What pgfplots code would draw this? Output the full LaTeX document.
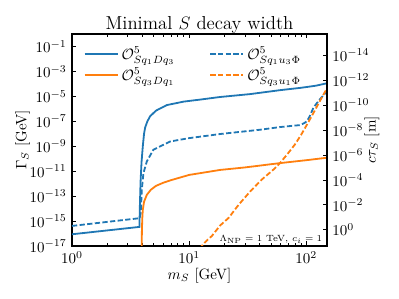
\documentclass[border=0pt]{standalone}
\usepackage{pgfplots}
\pgfplotsset{compat=1.18}
\definecolor{tabblue}{HTML}{1F77B4}
\definecolor{taborange}{HTML}{FF7F0E}
\begin{document}
\begin{tikzpicture}
\begin{axis}[name=ax, scale only axis, width=170pt, height=141.33pt,
  xmode=log, ymode=log, xmin=1, xmax=150, ymin=1e-17, ymax=1,
  ytick={1e-17,1e-15,1e-13,1e-11,1e-9,1e-7,1e-5,1e-3,1e-1},
  xtick={1,10,100},
  minor xtick={2,3,4,5,6,7,8,9,20,30,40,50,60,70,80,90},
  ytick pos=left, xtick pos=both, tick align=inside,
  major tick length=3pt, minor tick length=1.8pt,
  axis line style={line width=0.8pt},
  every tick/.style={black, line width=0.6pt},
  xlabel={$m_S$ [GeV]},
  xlabel style={at={(axis description cs:0.5,-0.14)}, anchor=center},
  ylabel={$\Gamma_S$ [GeV]},
  ylabel style={at={(axis description cs:-0.194,0.5)}, anchor=center},
  legend columns=2,
  legend cell align=left,
  legend image code/.code={\draw[#1] (0pt,0pt) -- (22pt,0pt);},
  legend style={draw=none, fill=none, at={(axis description cs:0.045,0.955)}, anchor=north west,
    inner sep=0pt, row sep=0.5pt, /tikz/every even column/.append style={column sep=21pt}},
]
\addplot[tabblue, line width=1.2pt] coordinates {
(1,8.71e-17) (3.76,3.39e-16) (3.80,2.51e-14) (3.85,1.585e-12) (3.92,5.01e-11)
(4.02,1e-9) (4.12,1e-8) (4.21,3.16e-8) (4.40,1e-7) (4.64,2.51e-7) (5.2,7.08e-7)
(6.45,2.0e-6) (9,3.8e-6) (12.4,5.5e-6) (18.4,8.9e-6) (33,1.51e-5) (60,3.16e-5)
(89,4.79e-5) (120,7.08e-5) (150,1.12e-4)
};
\addlegendentry{$\mathcal{O}^5_{Sq_1Dq_3}$}
\addplot[tabblue, line width=1.2pt, dash pattern=on 3.5pt off 1.6pt] coordinates {
(1,4.07e-16) (3.78,1.70e-15) (3.87,5.01e-15) (3.94,3.16e-13) (4.07,6.92e-12)
(4.35,6.03e-11) (4.95,5.25e-10) (6.88,2.40e-9) (10,4.47e-9) (18.4,9.55e-9)
(40,2.09e-8) (60,3.47e-8) (89,5.0e-8) (97,7.59e-8) (102,1.12e-7) (108,3.16e-7)
(115,1.26e-6) (130,5.62e-6) (145,1.78e-5) (150,2.51e-5)
};
\addlegendentry{$\mathcal{O}^5_{Sq_1u_3\Phi}$}
\addplot[taborange, line width=1.2pt] coordinates {
(3.93,3.16e-18) (3.95,1.585e-16) (3.98,1.585e-15) (4.02,7.94e-15) (4.12,3.55e-14)
(4.35,1.26e-13) (4.7,3.16e-13) (5.2,6.6e-13) (6,1.175e-12) (7,1.9e-12)
(10,5.01e-12) (18.4,1.26e-11) (30,2.0e-11) (60,4.47e-11) (100,7.59e-11) (150,1.2e-10)
};
\addlegendentry{$\mathcal{O}^5_{Sq_3Dq_1}$}
\addplot[taborange, line width=1.2pt, dash pattern=on 3.5pt off 1.6pt] coordinates {
(11.5,1.58e-18) (12.8,1e-17) (14,2.51e-17) (15.6,6.31e-17) (18.4,4.47e-16)
(21.7,1.78e-15) (26.4,2.0e-14) (33.2,2.4e-13) (41.8,2.19e-12) (52.6,1.38e-11)
(60,4.79e-11) (70,2.82e-10) (80,1.41e-9) (90,7.94e-9) (100,4.47e-8) (115,4.68e-7)
(130,3.98e-6) (145,2.51e-5) (150,3.98e-5)
};
\addlegendentry{$\mathcal{O}^5_{Sq_3u_1\Phi}$}
\node[anchor=south east, font=\fontsize{6}{7}\selectfont, inner sep=0.5pt] at (rel axis cs:0.985,0.008) {$\Lambda_{\mathrm{NP}}=1$ TeV, $c_i=1$};
\end{axis}
\begin{axis}[scale only axis, width=170pt, height=141.33pt,
  xmode=log, xmin=1, xmax=150, hide x axis,
  ymode=log, y dir=reverse, ymin=1.97327e-16, ymax=19.7327,
  axis y line*=right, axis line style={-, line width=0.8pt},
  ytick={1,1e-2,1e-4,1e-6,1e-8,1e-10,1e-12,1e-14},
  tick align=inside, major tick length=3pt,
  every tick/.style={black, line width=0.6pt},
  ylabel={$c\tau_S$ [m]},
  ylabel style={at={(axis description cs:1.176,0.5)}, anchor=center},
]
\end{axis}
\node[anchor=base, font=\fontsize{12.5}{14}\selectfont, inner sep=0pt] at ([yshift=3.3pt]ax.north) {Minimal $S$ decay width};
\pgfresetboundingbox
\path[use as bounding box] ([shift={(-48pt,-35.33pt)}]ax.south west) rectangle ([shift={(48pt,22.67pt)}]ax.north east);
\end{tikzpicture}
\end{document}
